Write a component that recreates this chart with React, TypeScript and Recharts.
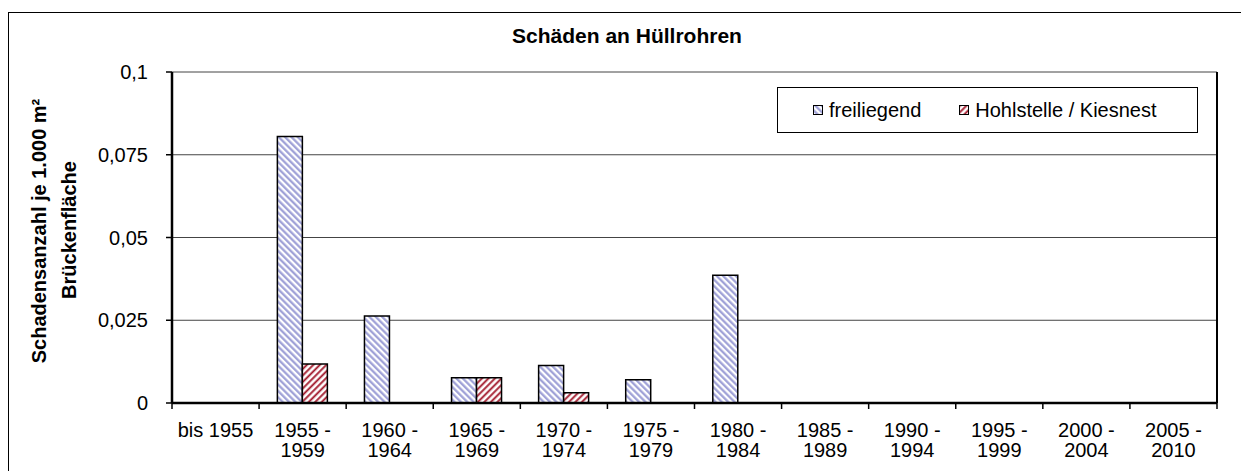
import React from 'react';
import { BarChart, Bar, XAxis, YAxis, CartesianGrid, Legend } from 'recharts';

// Zeiträume (Baujahr) und Schadensanzahl je 1.000 m² Brückenfläche
const periods = [
  'bis 1955',
  '1955 -\n1959',
  '1960 -\n1964',
  '1965 -\n1969',
  '1970 -\n1974',
  '1975 -\n1979',
  '1980 -\n1984',
  '1985 -\n1989',
  '1990 -\n1994',
  '1995 -\n1999',
  '2000 -\n2004',
  '2005 -\n2010',
];
const freiliegend = [0, 0.0805, 0.0263, 0.0076, 0.0113, 0.007, 0.0386, 0, 0, 0, 0, 0];
const hohlstelle = [0, 0.0118, 0, 0.0076, 0.0031, 0, 0, 0, 0, 0, 0, 0];
const yTicks = [0, 0.025, 0.05, 0.075, 0.1];

const data = periods.map((p, i) => ({
  name: p,
  freiliegend: freiliegend[i],
  hohlstelle: hohlstelle[i],
}));

const FONT = '"Liberation Sans", Arial, sans-serif';

const fmt = (v: number) => String(v).replace('.', ',');

// Beschriftung zweizeilig, Teilstriche an den Kategoriegrenzen
const PeriodTick = (props: any) => {
  const { x, y, payload, index, visibleTicksCount } = props;
  const half = payload.offset || 0;
  const lines = String(payload.value).split('\n');
  const isLast = index === visibleTicksCount - 1;
  return (
    <g>
      <line x1={x - half} x2={x - half} y1={y - 8} y2={y - 2} stroke="#000" strokeWidth={1.5} />
      {isLast && (
        <line x1={x + half} x2={x + half} y1={y - 8} y2={y - 2} stroke="#000" strokeWidth={1.5} />
      )}
      <text x={x} y={y + 26} textAnchor="middle" fontSize={20} fontFamily={FONT} fill="#000">
        {lines.map((l, i) => (
          <tspan key={i} x={x} dy={i === 0 ? 0 : 20}>
            {l}
          </tspan>
        ))}
      </text>
    </g>
  );
};

const YLabel = () => (
  <g fontFamily={FONT} fontWeight="bold" fontSize={20} fill="#000">
    <text x={46} y={231} textAnchor="middle" transform="rotate(-90 46 231)">
      Schadensanzahl je 1.000 m²
    </text>
    <text x={76} y={230} textAnchor="middle" transform="rotate(-90 76 230)">
      Brückenfläche
    </text>
  </g>
);

const Swatch = ({ id }: { id: string }) => (
  <svg width={10} height={10} style={{ marginRight: 6 }}>
    <rect x={0.5} y={0.5} width={9} height={9} fill={`url(#${id})`} stroke="#000" strokeWidth={1} />
  </svg>
);

const LegendBox = () => (
  <div
    style={{
      boxSizing: 'border-box',
      width: 421,
      height: 46,
      border: '1px solid #000',
      background: '#fff',
      display: 'flex',
      alignItems: 'center',
      paddingLeft: 35,
      fontFamily: FONT,
      fontSize: 20,
      color: '#000',
    }}
  >
    <span style={{ display: 'flex', alignItems: 'center', marginRight: 38 }}>
      <Swatch id="patFrei" />
      freiliegend
    </span>
    <span style={{ display: 'flex', alignItems: 'center' }}>
      <Swatch id="patHohl" />
      Hohlstelle / Kiesnest
    </span>
  </div>
);

export default function App() {
  return (
    <div
      style={{
        position: 'absolute',
        left: 0,
        top: 0,
        width: 1241,
        height: 471,
        background: '#fff',
        overflow: 'hidden',
      }}
    >
      <div
        style={{
          position: 'absolute',
          left: 8,
          top: 12,
          width: 1260,
          height: 480,
          border: '1px solid #000',
          boxSizing: 'border-box',
        }}
      />
      <div
        style={{
          position: 'absolute',
          left: 427,
          top: 24,
          width: 400,
          textAlign: 'center',
          fontFamily: FONT,
          fontWeight: 'bold',
          fontSize: 21,
          color: '#000',
        }}
      >
        Schäden an Hüllrohren
      </div>
      <div style={{ position: 'absolute', left: 0, top: 0 }}>
        <BarChart
          width={1241}
          height={471}
          data={data}
          margin={{ top: 72, right: 23, bottom: 18, left: 112 }}
          barCategoryGap="21%"
          barGap={0}
        >
          <defs>
            <pattern id="patFrei" patternUnits="userSpaceOnUse" width={4.5} height={4.5} patternTransform="rotate(-45)">
              <rect x={0} y={0} width={4.5} height={4.5} fill="#fff" />
              <line x1={1.2} y1={0} x2={1.2} y2={4.5} stroke="#9c9ed6" strokeWidth={2.2} />
            </pattern>
            <pattern id="patHohl" patternUnits="userSpaceOnUse" width={4.6} height={4.6} patternTransform="rotate(45)">
              <rect x={0} y={0} width={4.6} height={4.6} fill="#fff" />
              <line x1={1.2} y1={0} x2={1.2} y2={4.6} stroke="#a31b2e" strokeWidth={1.9} />
            </pattern>
          </defs>
          <CartesianGrid vertical={false} stroke="#444" strokeWidth={1} />
          <XAxis
            dataKey="name"
            interval={0}
            tick={<PeriodTick />}
            tickLine={false}
            tickSize={6}
            tickMargin={2}
            axisLine={{ stroke: '#000', strokeWidth: 2.5 }}
            height={50}
          />
          <YAxis
            domain={[0, 0.1]}
            ticks={yTicks}
            tickFormatter={fmt}
            width={60}
            tick={{ fontSize: 20, fontFamily: FONT, fill: '#000', dx: -16 }}
            tickLine={{ stroke: '#000', strokeWidth: 1.5 }}
            tickSize={6}
            axisLine={{ stroke: '#000', strokeWidth: 2.5 }}
            label={{ content: () => <YLabel /> }}
          />
          <YAxis
            yAxisId="right"
            orientation="right"
            domain={[0, 0.1]}
            width={1}
            tick={false}
            tickLine={false}
            axisLine={{ stroke: '#000', strokeWidth: 2 }}
          />
          <Legend
            layout="horizontal"
            verticalAlign="middle"
            align="center"
            content={() => <LegendBox />}
            wrapperStyle={{ position: 'absolute', left: 777, top: 87, width: 421, height: 46 }}
          />
          <Bar
            dataKey="freiliegend"
            fill="url(#patFrei)"
            stroke="#000"
            strokeWidth={1.5}
            isAnimationActive={false}
          />
          <Bar
            dataKey="hohlstelle"
            fill="url(#patHohl)"
            stroke="#000"
            strokeWidth={1.5}
            isAnimationActive={false}
          />
        </BarChart>
      </div>
    </div>
  );
}
